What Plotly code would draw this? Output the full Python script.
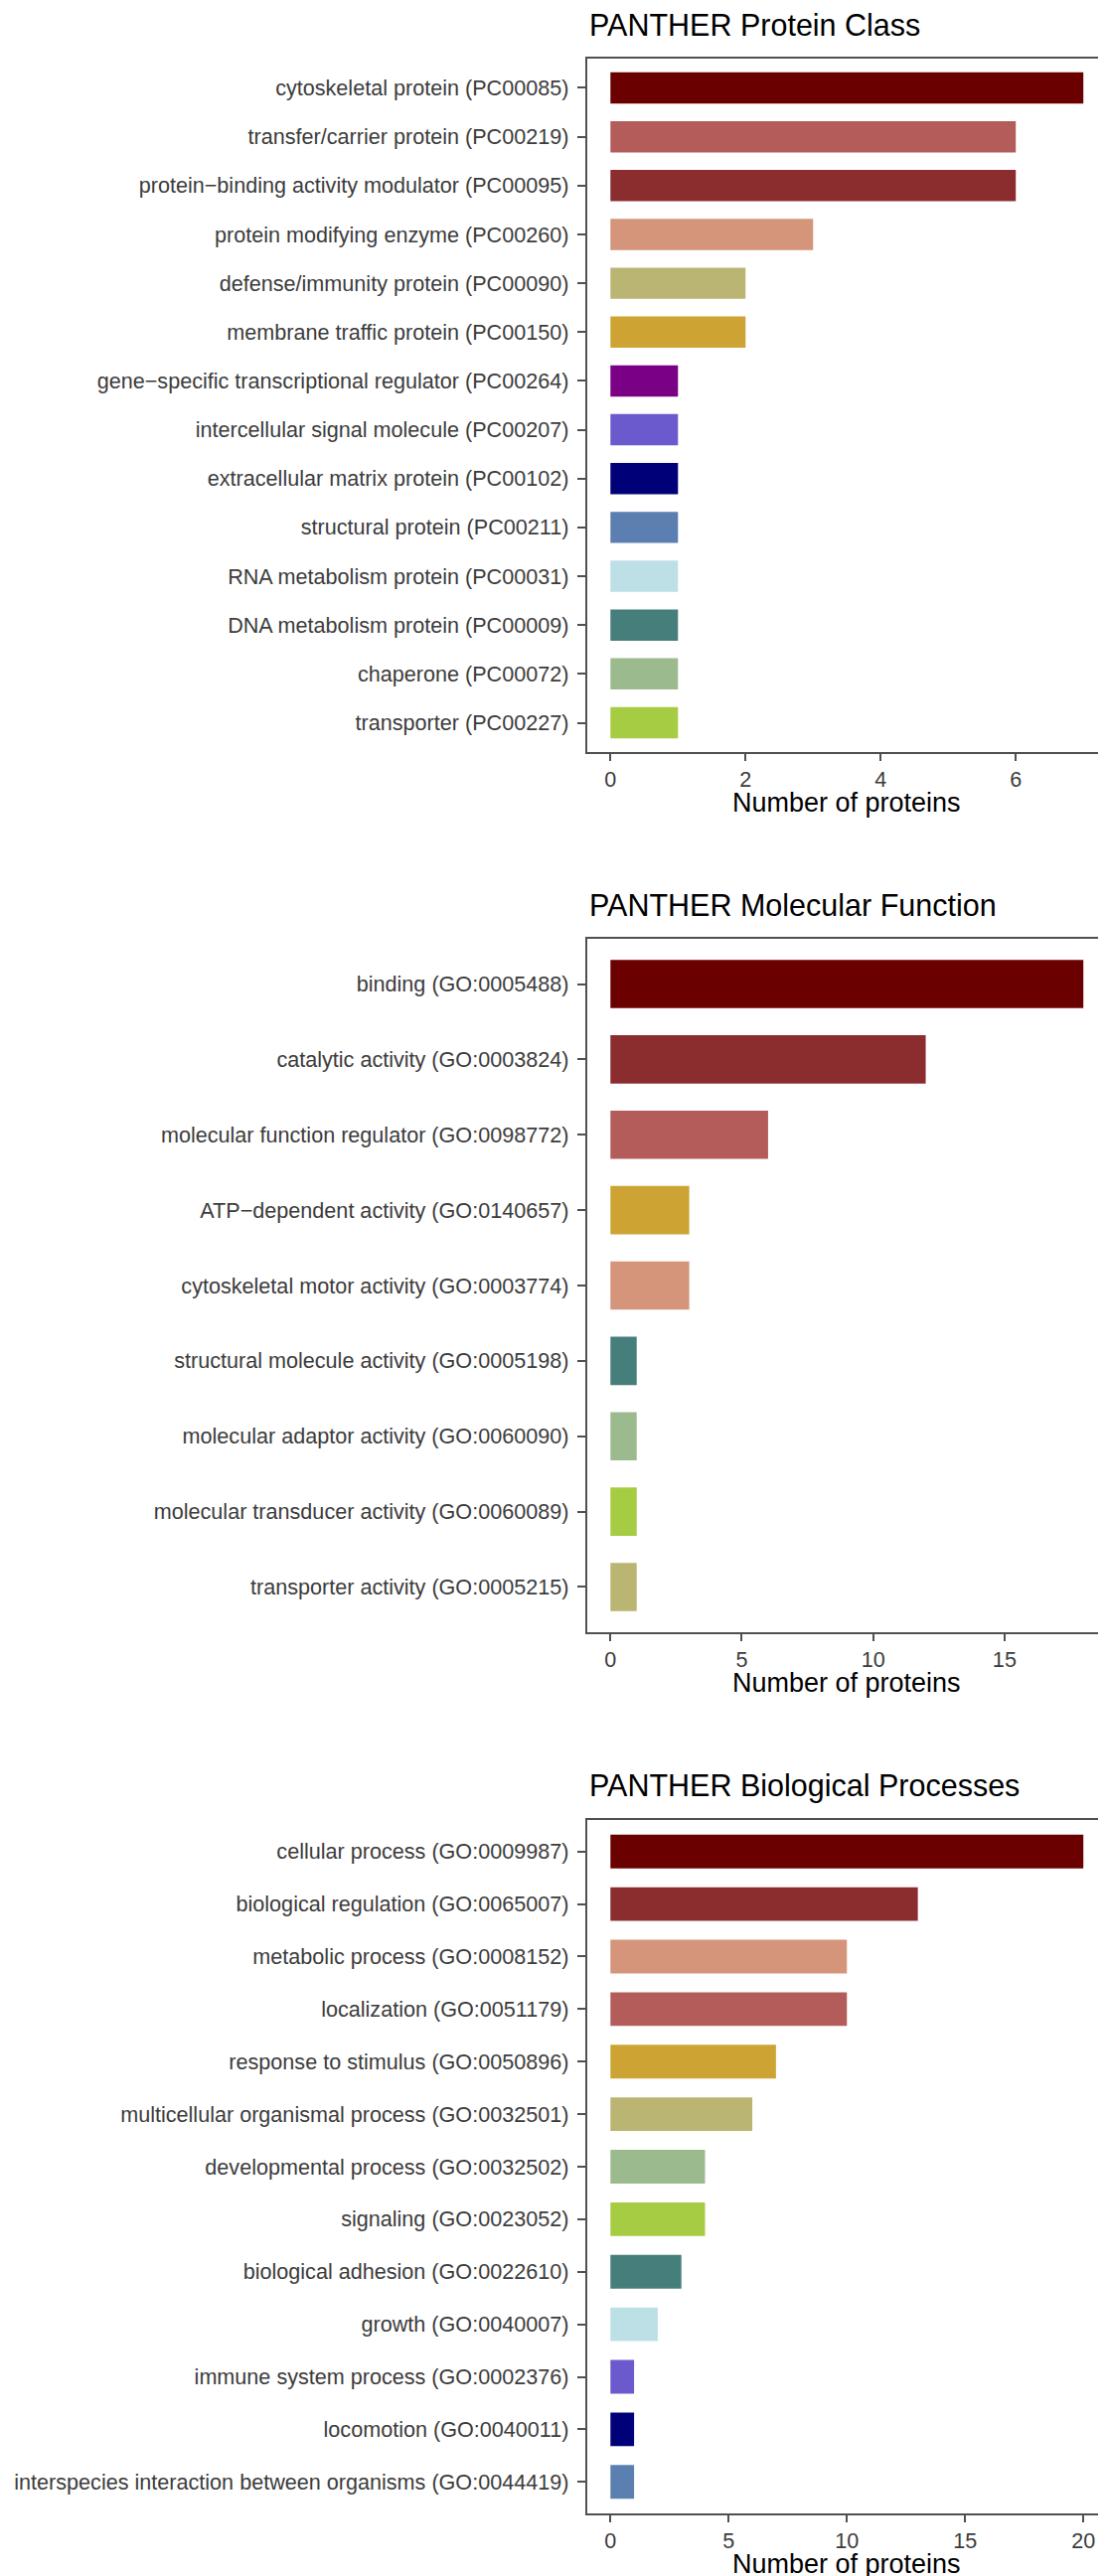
import plotly.graph_objects as go

W, H = 1113, 2593

# ---------------- data ----------------
pc_labels = [
    "cytoskeletal protein (PC00085)",
    "transfer/carrier protein (PC00219)",
    "protein\u2212binding activity modulator (PC00095)",
    "protein modifying enzyme (PC00260)",
    "defense/immunity protein (PC00090)",
    "membrane traffic protein (PC00150)",
    "gene\u2212specific transcriptional regulator (PC00264)",
    "intercellular signal molecule (PC00207)",
    "extracellular matrix protein (PC00102)",
    "structural protein (PC00211)",
    "RNA metabolism protein (PC00031)",
    "DNA metabolism protein (PC00009)",
    "chaperone (PC00072)",
    "transporter (PC00227)",
]
pc_values = [7, 6, 6, 3, 2, 2, 1, 1, 1, 1, 1, 1, 1, 1]
pc_colors = ["#6B0000", "#B35C5A", "#8B2C2E", "#D4957A", "#BAB572", "#CDA434",
             "#7A0085", "#6A5ACD", "#000078", "#5B7FB0", "#BDDFE6", "#467E7B",
             "#9BBB8F", "#A5CC42"]

mf_labels = [
    "binding (GO:0005488)",
    "catalytic activity (GO:0003824)",
    "molecular function regulator (GO:0098772)",
    "ATP\u2212dependent activity (GO:0140657)",
    "cytoskeletal motor activity (GO:0003774)",
    "structural molecule activity (GO:0005198)",
    "molecular adaptor activity (GO:0060090)",
    "molecular transducer activity (GO:0060089)",
    "transporter activity (GO:0005215)",
]
mf_values = [18, 12, 6, 3, 3, 1, 1, 1, 1]
mf_colors = ["#6B0000", "#8B2C2E", "#B35C5A", "#CDA434", "#D4957A", "#467E7B",
             "#9BBB8F", "#A5CC42", "#BAB572"]

bp_labels = [
    "cellular process (GO:0009987)",
    "biological regulation (GO:0065007)",
    "metabolic process (GO:0008152)",
    "localization (GO:0051179)",
    "response to stimulus (GO:0050896)",
    "multicellular organismal process (GO:0032501)",
    "developmental process (GO:0032502)",
    "signaling (GO:0023052)",
    "biological adhesion (GO:0022610)",
    "growth (GO:0040007)",
    "immune system process (GO:0002376)",
    "locomotion (GO:0040011)",
    "interspecies interaction between organisms (GO:0044419)",
]
bp_values = [20, 13, 10, 10, 7, 6, 4, 4, 3, 2, 1, 1, 1]
bp_colors = ["#6B0000", "#8B2C2E", "#D4957A", "#B35C5A", "#CDA434", "#BAB572",
             "#9BBB8F", "#A5CC42", "#467E7B", "#BDDFE6", "#6A5ACD", "#000078",
             "#5B7FB0"]

titles = ["PANTHER Protein Class", "PANTHER Molecular Function",
          "PANTHER Biological Processes"]
x_title = "Number of proteins"
x_ranges = [[-0.35, 7.35], [-0.9, 18.9], [-1.0, 21.0]]
x_ticks = [[0, 2, 4, 6], [0, 5, 10, 15], [0, 5, 10, 15, 20]]

# ---------------- layout geometry (pixels) ----------------
x_left, x_right = 582.5, 1106
panels_px = [(51, 749), (937, 1635), (1824, 2522)]  # top, bottom

FONT = "Liberation Sans, Arial, Helvetica, sans-serif"
TICK_COLOR = "#3C3C3C"
LINE_COLOR = "#505050"

fig = go.Figure()
datasets = [(pc_labels, pc_values, pc_colors),
            (mf_labels, mf_values, mf_colors),
            (bp_labels, bp_values, bp_colors)]

annotations = []
for i, ((labels, values, colors), (top, bot)) in enumerate(zip(datasets, panels_px)):
    sfx = "" if i == 0 else str(i + 1)
    fig.add_trace(go.Bar(
        x=values, y=labels, orientation="h",
        marker=dict(color=colors, line=dict(width=0)),
        width=0.64,
        xaxis="x" + sfx, yaxis="y" + sfx,
        showlegend=False,
    ))
    dom_x = [x_left / W, x_right / W]
    dom_y = [1 - bot / H, 1 - top / H]
    n = len(labels)
    fig.update_layout(**{
        "xaxis" + sfx: dict(
            domain=dom_x, anchor="y" + sfx, range=x_ranges[i],
            tickmode="array", tickvals=x_ticks[i],
            ticks="outside", ticklen=7, tickwidth=1.5, tickcolor=LINE_COLOR,
            showline=True, mirror=True, linecolor=LINE_COLOR, linewidth=1.5,
            showgrid=False, zeroline=False, automargin=False,
            tickfont=dict(family=FONT, size=21.6, color=TICK_COLOR),
        ),
        "yaxis" + sfx: dict(
            domain=dom_y, anchor="x" + sfx, type="category",
            categoryorder="array", categoryarray=labels,
            range=[n - 1 + 0.6, -0.6],
            ticks="outside", ticklen=8, tickwidth=1.5, tickcolor=LINE_COLOR,
            showline=True, mirror=True, linecolor=LINE_COLOR, linewidth=1.5,
            showgrid=False, zeroline=False, automargin=False,
            tickfont=dict(family=FONT, size=21.6, color=TICK_COLOR),
            ticklabelstandoff=4,
        ),
    })
    annotations.append(dict(
        text=titles[i], xref="paper", yref="paper",
        x=x_left / W, y=1 - (top - 34) / H, xanchor="left", yanchor="middle",
        showarrow=False, font=dict(family=FONT, size=30.5, color="black"),
    ))
    annotations.append(dict(
        text=x_title, xref="paper", yref="paper",
        x=(x_left + x_right) / 2 / W, y=1 - (bot + 51) / H,
        xanchor="center", yanchor="middle",
        showarrow=False, font=dict(family=FONT, size=27, color="black"),
    ))

fig.update_layout(
    width=W, height=H,
    margin=dict(l=0, r=0, t=0, b=0, autoexpand=False),
    paper_bgcolor="white", plot_bgcolor="white",
    annotations=annotations,
    bargap=0.36,
)

fig.write_html("out.html")
